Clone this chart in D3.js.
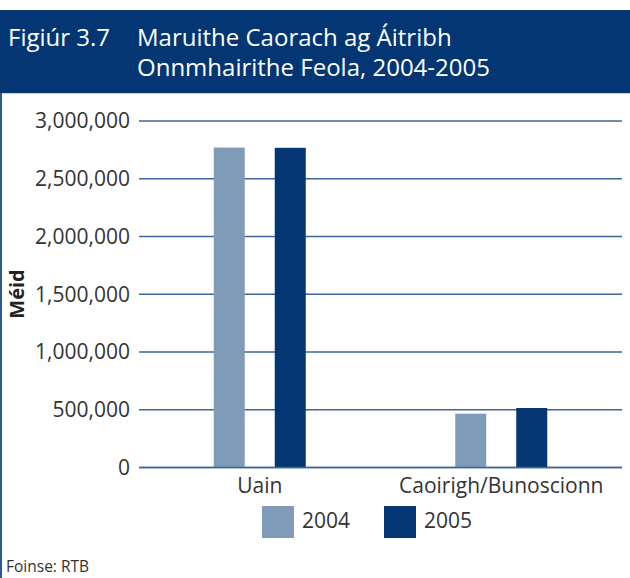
<!DOCTYPE html>
<html>
<head>
<meta charset="utf-8">
<script src="https://cdn.jsdelivr.net/npm/d3@7"></script>
<style>
  body { margin: 0; background: #fff; }
  svg { display: block; font-family: "Open Sans", "Noto Sans", sans-serif; }
</style>
</head>
<body>
<svg id="chart" width="630" height="578"></svg>
<script>
const categories = ['Uain', 'Caoirigh/Bunoscionn'];
const seriesNames = ['2004', '2005'];
const values2004 = [2770000, 466000];
const values2005 = [2768000, 515000];
const yTicks = [0, 500000, 1000000, 1500000, 2000000, 2500000, 3000000];

const DARK_BLUE = '#033672';
const LIGHT_BLUE = '#7f9bb8';
const GRID = '#3d6796';
const seriesColors = [LIGHT_BLUE, DARK_BLUE];

const svg = d3.select('#chart');

// header band
svg.append('rect')
  .attr('x', 0).attr('y', 10)
  .attr('width', 630).attr('height', 83)
  .attr('fill', DARK_BLUE);

// thin light rule under the header
svg.append('line')
  .attr('x1', 0).attr('x2', 630)
  .attr('y1', 93.5).attr('y2', 93.5)
  .attr('stroke', '#c9d4e2')
  .attr('stroke-width', 1);

// frame line on the left
svg.append('line')
  .attr('x1', 1).attr('x2', 1)
  .attr('y1', 93).attr('y2', 578)
  .attr('stroke', '#2a5a92')
  .attr('stroke-width', 2);

const title = svg.append('g').attr('fill', '#fff').attr('font-size', 24);
title.append('text').attr('x', 8).attr('y', 46).text('Figiúr 3.7');
title.append('text').attr('x', 137).attr('y', 46).text('Maruithe Caorach ag Áitribh');
title.append('text').attr('x', 137).attr('y', 76).text('Onnmhairithe Feola, 2004-2005');

const margin = { left: 139, right: 8, top: 121, bottom: 110 };
const width = 630 - margin.left - margin.right;

const g = svg.append('g').attr('transform', `translate(${margin.left},${margin.top})`);

const x = d3.scaleBand().domain(categories).range([0, width]);
const y = d3.scaleLinear().domain([0, 3000000]).range([346.5, 0]);

// gridlines
g.selectAll('.grid')
  .data(yTicks)
  .join('line')
  .attr('class', 'grid')
  .attr('x1', 0).attr('x2', width)
  .attr('y1', d => y(d)).attr('y2', d => y(d))
  .attr('stroke', GRID)
  .attr('stroke-width', 1.5);

// y tick labels
g.selectAll('.ytick')
  .data(yTicks)
  .join('text')
  .attr('class', 'ytick')
  .attr('x', -9)
  .attr('y', d => y(d))
  .attr('dy', '0.35em')
  .attr('text-anchor', 'end')
  .attr('font-size', 21)
  .attr('fill', '#333')
  .text(d => d3.format(',')(d));

// y axis title
svg.append('text')
  .attr('transform', 'translate(24,294) rotate(-90)')
  .attr('text-anchor', 'middle')
  .attr('font-size', 20)
  .attr('font-weight', 'bold')
  .attr('fill', '#222')
  .text('Méid');

// bars
const barWidth = 31;
const barGap = 30;
const groupWidth = barWidth * 2 + barGap;
const series = [values2004, values2005];

series.forEach((vals, si) => {
  g.selectAll(`.bar-${si}`)
    .data(categories.map((c, i) => ({ c, v: vals[i] })))
    .join('rect')
    .attr('class', `bar-${si}`)
    .attr('x', d => x(d.c) + x.bandwidth() / 2 - groupWidth / 2 + si * (barWidth + barGap))
    .attr('y', d => y(d.v))
    .attr('width', barWidth)
    .attr('height', d => y(0) - y(d.v))
    .attr('fill', seriesColors[si]);
});

// redraw the zero line over bars
g.append('line')
  .attr('x1', 0).attr('x2', width)
  .attr('y1', y(0)).attr('y2', y(0))
  .attr('stroke', GRID)
  .attr('stroke-width', 1.5);

// category labels
g.selectAll('.xtick')
  .data(categories)
  .join('text')
  .attr('class', 'xtick')
  .attr('x', d => x(d) + x.bandwidth() / 2)
  .attr('y', y(0) + 25)
  .attr('text-anchor', 'middle')
  .attr('font-size', 21)
  .attr('fill', '#333')
  .text(d => d);

// legend
const legendX = [262, 384];
const legend = svg.selectAll('.legend')
  .data(seriesNames)
  .join('g')
  .attr('class', 'legend')
  .attr('transform', (d, i) => `translate(${legendX[i]},506)`);
legend.append('rect')
  .attr('width', 32).attr('height', 32)
  .attr('fill', (d, i) => seriesColors[i]);
legend.append('text')
  .attr('x', 40).attr('y', 15)
  .attr('dy', '0.35em')
  .attr('font-size', 21)
  .attr('fill', '#333')
  .text(d => d);

// source
svg.append('text')
  .attr('x', 6).attr('y', 572)
  .attr('font-size', 15.5)
  .attr('fill', '#333')
  .text('Foinse: RTB');
</script>
</body>
</html>
